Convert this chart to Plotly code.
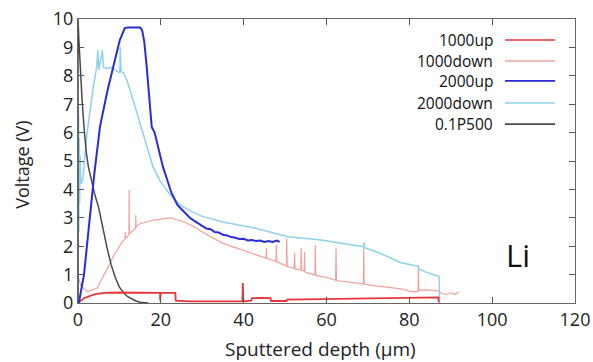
import plotly.graph_objects as go

# ---------------- data ----------------
up1000_x = [0, 1.45, 3.9, 6.3, 10, 15, 19.8, 19.85, 19.95, 23.5, 23.6, 27, 33, 39.7, 39.8, 39.9,
            41.8, 42, 44, 46.5, 46.6, 50.3, 50.5, 55, 60, 70, 80, 87, 87.1]
up1000_y = [0, 0.17, 0.3, 0.36, 0.37, 0.36, 0.36, 0.08, 0.36, 0.36, 0.08, 0.06, 0.06, 0.06, 0.7, 0.06,
            0.08, 0.17, 0.18, 0.17, 0.07, 0.07, 0.12, 0.13, 0.15, 0.18, 0.2, 0.2, 0.02]

down1000_x = [0, 0.65, 2.25, 4.6, 7.1, 8.7, 10.7, 11.35, 11.4, 11.5, 12.3, 12.35, 12.4, 12.5, 13.9, 13.95,
              14.0, 14.1, 15.1, 18.3, 22.3, 25.5, 28, 30, 35, 40, 45.4, 45.5, 45.6, 47.8, 47.9, 48.0,
              50.3, 50.4, 50.5, 52.2, 52.3, 52.4, 53.8, 53.9, 54.0, 54.6, 54.7, 54.8, 55, 57.2, 57.3,
              57.4, 60, 62.2, 62.3, 62.4, 65, 68.9, 69.0, 69.1, 72, 75, 78, 80.5, 82.1, 82.2, 82.3,
              84.3, 86, 87.2, 88, 89, 90, 91, 92]
down1000_y = [0.95, 0.63, 0.4, 0.52, 1.22, 1.69, 2.16, 2.25, 2.5, 2.28, 2.4, 3.98, 2.42, 2.45, 2.63, 3.1,
              2.65, 2.7, 2.8, 2.92, 3.0, 2.86, 2.69, 2.5, 2.1, 1.85, 1.58, 1.93, 1.57, 1.46, 2.04, 1.45,
              1.3, 2.28, 1.28, 1.22, 1.76, 1.2, 1.16, 1.93, 1.15, 1.12, 1.8, 1.1, 1.08, 0.99, 2.04,
              0.97, 0.9, 0.8, 1.93, 0.79, 0.74, 0.67, 1.93, 0.66, 0.6, 0.55, 0.5, 0.4, 0.4, 1.34, 0.45,
              0.46, 0.44, 0.42, 0.32, 0.3, 0.36, 0.3, 0.4]

up2000_x = [0, 0.25, 1.45, 2.25, 3.05, 3.9, 5.3, 7, 8.9, 10.1, 11.3, 12, 13, 14, 15, 15.5, 16, 16.6,
            17.2, 17.8, 18.5, 19.5, 20.5, 21.4, 22.5, 24, 25, 26, 27, 28, 29, 30, 31, 32, 33, 34, 35,
            36, 37, 38, 39, 40, 41, 42, 43, 44, 45, 46, 47, 48, 48.7]
up2000_y = [0, 0.05, 1.0, 2.15, 3.3, 4.5, 6.2, 7.4, 8.55, 9.26, 9.68, 9.7, 9.7, 9.7, 9.7, 9.6, 9.2, 8.3,
            7.3, 6.2, 6.0, 5.4, 4.8, 4.4, 3.9, 3.45, 3.3, 3.15, 3.0, 2.9, 2.8, 2.72, 2.62, 2.6, 2.5, 2.48,
            2.4, 2.38, 2.32, 2.3, 2.25, 2.26, 2.2, 2.22, 2.18, 2.2, 2.15, 2.18, 2.15, 2.2, 2.15]

down2000_x = [0, 0.05, 0.1, 0.15, 0.2, 0.3, 0.4, 0.5, 0.7, 1.1, 2.2, 3.7, 4.5, 4.8, 5.0, 5.9, 6.1, 7,
              8, 9, 10.1, 10.2, 10.4, 11.0, 11.8, 13.3, 15.7, 18.1, 19.8, 22.3, 24.6, 27, 30, 35, 42.6,
              50.7, 58.7, 66.8, 69.0, 69.1, 69.2, 72.8, 74.9, 78, 82, 82.2, 84.3, 87.2, 87.3]
down2000_y = [0, 6.9, 1.5, 6.5, 2.5, 5.8, 3.5, 5.2, 4.2, 4.3, 6.0, 7.6, 8.3, 8.9, 8.2, 8.9, 8.3, 8.25,
              8.3, 8.2, 8.1, 9.0, 8.15, 8.1, 7.85, 7.15, 6.0, 4.8, 4.3, 3.8, 3.45, 3.25, 3.05, 2.85, 2.64,
              2.33, 2.22, 2.04, 1.98, 2.15, 1.95, 1.76, 1.63, 1.42, 1.3, 1.2, 1.07, 0.93, 0.0]

p500_x = [0, 0, 0.2, 0.5, 1, 1.5, 2, 2.5, 3, 3.5, 4, 5, 6, 7, 8, 9, 10, 11, 12, 13, 14, 15, 16, 17]
p500_y = [0, 10, 9.3, 8.3, 7.1, 6.1, 5.3, 4.8, 4.45, 4.2, 3.85, 3.35, 2.6, 1.95, 1.35, 0.9, 0.56, 0.36,
          0.22, 0.13, 0.07, 0.03, 0.01, 0]

series_names = ["1000up", "1000down", "2000up", "2000down", "0.1P500"]
series_colors = ["#E8353A", "#F2A29C", "#2B2BD8", "#8ED3EA", "#4A4A4A"]
series_widths = [1.8, 1.2, 2.0, 1.5, 1.5]
series_data = [(up1000_x, up1000_y), (down1000_x, down1000_y), (up2000_x, up2000_y),
               (down2000_x, down2000_y), (p500_x, p500_y)]

x_ticks = [0, 20, 40, 60, 80, 100, 120]
y_ticks = list(range(0, 11))

FONT = "Open Sans, Noto Sans, sans-serif"

fig = go.Figure()
# draw order: light ones first
order = [1, 3, 4, 0, 2]
for i in order:
    xs, ys = series_data[i]
    fig.add_trace(go.Scatter(x=xs, y=ys, mode="lines", name=series_names[i],
                             line=dict(color=series_colors[i], width=series_widths[i]),
                             showlegend=False))

# custom legend: right-aligned text with line sample on its right
leg_y = [0.926, 0.852, 0.782, 0.704, 0.630]
for i, name in enumerate(series_names):
    fig.add_annotation(x=0.839, y=leg_y[i], xref="paper", yref="paper", text=name,
                       showarrow=False, xanchor="right", yanchor="middle",
                       font=dict(family=FONT, size=15.5, color="#111"))
    fig.add_shape(type="line", xref="paper", yref="paper", x0=0.859, x1=0.960,
                  y0=leg_y[i], y1=leg_y[i], line=dict(color=series_colors[i], width=1.6))

fig.add_annotation(x=0.885, y=0.17, xref="paper", yref="paper", text="Li", showarrow=False,
                   xanchor="center", yanchor="middle", font=dict(family=FONT, size=31, color="#111"))

fig.add_annotation(x=0.487, y=-0.162, xref="paper", yref="paper", text="Sputtered depth (μm)",
                   showarrow=False, xanchor="center", yanchor="middle",
                   font=dict(family=FONT, size=19, color="#222"))
fig.add_annotation(x=-0.113, y=0.486, xref="paper", yref="paper", text="Voltage (V)",
                   showarrow=False, textangle=-90, xanchor="center", yanchor="middle",
                   font=dict(family=FONT, size=18, color="#222"))

axis_common = dict(showgrid=False, zeroline=False, showline=True, linecolor="#666", linewidth=1.2,
                   mirror="ticks", ticks="inside", ticklen=6, tickcolor="#555", automargin=False,
                   ticklabeloverflow="allow",
                   tickfont=dict(family=FONT, size=18, color="#222"))
fig.update_xaxes(range=[0, 120], tickvals=x_ticks, ticktext=[str(v) for v in x_ticks], **axis_common)
fig.update_yaxes(range=[0, 10], tickvals=y_ticks, ticktext=[str(v) for v in y_ticks], **axis_common)

fig.update_layout(width=593, height=362, margin=dict(l=78, r=18, t=19, b=59),
                  paper_bgcolor="white", plot_bgcolor="white", showlegend=False)

# remove the browser's default 8px body margin so the 593x362 figure fills the window exactly
fig.write_html("out.html", config={"displayModeBar": False},
               post_script="document.body.style.margin='0';document.body.style.overflow='hidden';")
